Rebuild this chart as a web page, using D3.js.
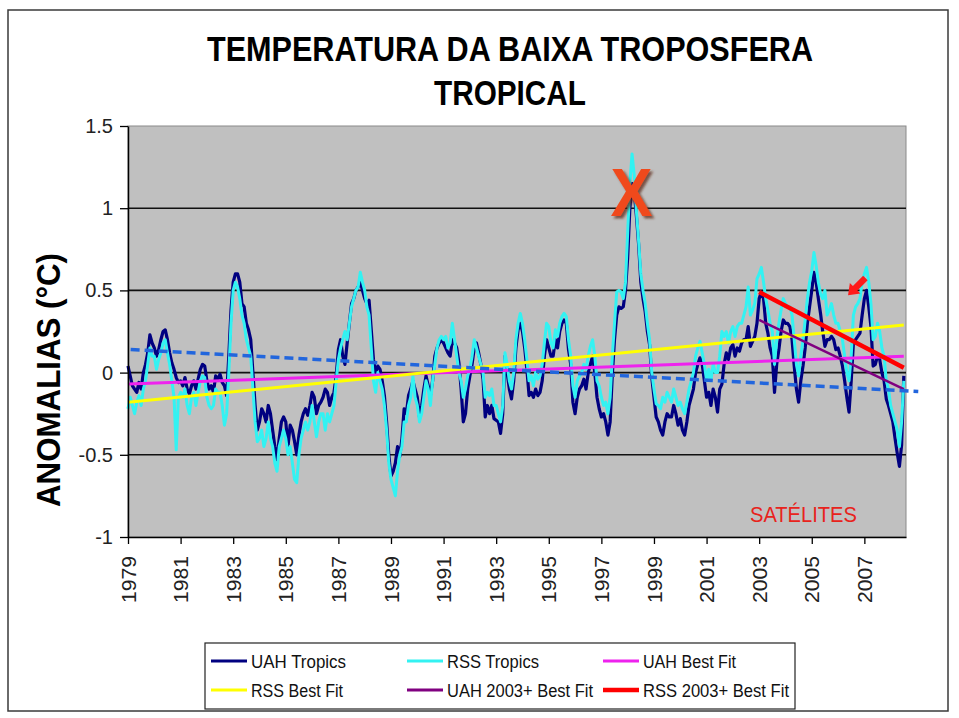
<!DOCTYPE html>
<html>
<head>
<meta charset="utf-8">
<script src="https://cdn.jsdelivr.net/npm/d3@7/dist/d3.min.js"></script>
<style>
  html, body { margin: 0; padding: 0; background: #ffffff; }
  svg { display: block; }
  text { font-family: "Liberation Sans", Arial, sans-serif; }
</style>
</head>
<body>
<script>
// ---------------- DATA ----------------
const startYear = 1979;            // first month = Jan 1979, monthly values
const uahTropics = [
  0.04,-0.02,-0.08,-0.10,-0.12,-0.06,-0.10,0.00,0.05,0.12,0.23,0.18,
  0.15,0.10,0.14,0.20,0.25,0.26,0.20,0.12,0.06,0.02,-0.03,-0.06,
  -0.05,-0.08,-0.03,-0.10,-0.13,-0.08,-0.05,-0.10,-0.04,0.02,0.05,0.04,
  -0.05,-0.10,-0.08,-0.12,-0.02,-0.04,-0.01,-0.06,-0.08,-0.14,0.10,0.38,
  0.55,0.60,0.60,0.55,0.42,0.40,0.30,0.26,0.20,0.00,-0.20,-0.35,
  -0.30,-0.22,-0.25,-0.30,-0.20,-0.25,-0.35,-0.45,-0.53,-0.40,-0.30,-0.27,
  -0.30,-0.45,-0.32,-0.35,-0.42,-0.50,-0.38,-0.30,-0.25,-0.22,-0.26,-0.20,
  -0.12,-0.15,-0.25,-0.20,-0.18,-0.15,-0.10,-0.12,-0.20,-0.15,-0.12,-0.02,
  0.14,0.20,0.10,0.05,0.18,0.30,0.42,0.45,0.50,0.52,0.55,0.50,
  0.45,0.42,0.44,0.26,0.08,0.00,0.04,0.02,-0.05,-0.14,-0.30,-0.50,
  -0.63,-0.60,-0.55,-0.45,-0.51,-0.40,-0.22,-0.25,-0.14,-0.10,-0.05,-0.10,
  -0.15,-0.27,-0.20,-0.10,-0.02,-0.08,-0.14,-0.05,0.10,0.15,0.18,0.20,
  0.18,0.15,0.12,0.10,0.20,0.18,0.15,0.06,-0.10,-0.30,-0.25,-0.10,
  -0.02,0.05,0.15,0.18,0.12,0.05,-0.04,-0.27,-0.20,-0.25,-0.20,-0.28,
  -0.29,-0.30,-0.37,-0.25,0.10,0.00,-0.10,-0.16,-0.05,0.15,0.26,0.30,
  0.25,0.15,0.02,-0.14,-0.12,-0.15,-0.10,-0.14,-0.12,-0.05,0.10,0.20,
  0.15,0.10,0.10,0.20,0.15,0.25,0.30,0.32,0.30,0.14,0.05,-0.18,
  -0.25,-0.15,-0.10,-0.08,-0.04,-0.10,0.00,0.05,0.10,0.00,-0.15,-0.22,
  -0.27,-0.25,-0.30,-0.38,-0.30,-0.01,0.20,0.35,0.40,0.39,0.40,0.50,
  0.70,1.00,1.15,1.10,0.95,0.78,0.55,0.45,0.37,0.25,0.17,-0.03,
  -0.15,-0.27,-0.30,-0.35,-0.38,-0.30,-0.25,-0.27,-0.27,-0.20,-0.25,-0.32,
  -0.28,-0.35,-0.38,-0.30,-0.20,-0.15,-0.10,0.00,0.05,0.09,0.05,-0.05,
  -0.15,-0.12,-0.20,-0.10,-0.15,-0.24,-0.10,-0.07,0.05,0.12,0.08,0.15,
  0.17,0.10,0.15,0.13,0.18,0.20,0.20,0.28,0.16,0.19,0.22,0.30,
  0.45,0.49,0.45,0.30,0.24,0.15,0.10,-0.12,0.05,0.14,0.25,0.32,
  0.30,0.30,0.28,0.20,0.04,-0.10,-0.18,-0.05,0.04,0.15,0.30,0.40,
  0.50,0.61,0.55,0.45,0.36,0.25,0.16,0.20,0.20,0.22,0.20,0.14,
  0.15,0.10,0.04,-0.05,-0.15,-0.24,-0.05,0.18,0.20,0.22,0.24,0.35,
  0.45,0.50,0.40,0.28,0.04,0.05,0.10,0.08,0.00,-0.05,-0.16,-0.20,
  -0.25,-0.30,-0.40,-0.49,-0.57,-0.44,-0.02
];
const rssTropics = [
  -0.22,-0.15,-0.20,-0.25,-0.18,-0.14,-0.20,-0.10,-0.05,0.05,0.15,0.10,
  0.10,0.02,0.08,0.12,0.18,0.20,0.12,0.05,-0.05,-0.15,-0.47,-0.15,
  -0.12,-0.15,-0.10,-0.20,-0.25,-0.15,-0.12,-0.20,-0.12,-0.05,-0.02,-0.03,
  -0.15,-0.20,-0.22,-0.20,-0.10,-0.12,-0.12,-0.20,-0.32,-0.25,0.00,0.30,
  0.50,0.55,0.52,0.45,0.35,0.30,0.20,0.15,0.10,-0.10,-0.30,-0.42,
  -0.40,-0.35,-0.45,-0.40,-0.30,-0.40,-0.45,-0.55,-0.60,-0.45,-0.40,-0.35,
  -0.40,-0.50,-0.45,-0.55,-0.65,-0.67,-0.50,-0.40,-0.35,-0.30,-0.35,-0.30,
  -0.20,-0.30,-0.39,-0.30,-0.25,-0.25,-0.35,-0.25,-0.30,-0.25,-0.20,-0.05,
  0.08,0.15,0.20,0.25,0.20,0.30,0.40,0.45,0.50,0.52,0.61,0.55,
  0.50,0.40,0.35,0.15,-0.05,-0.12,0.00,-0.05,-0.10,-0.20,-0.35,-0.55,
  -0.65,-0.70,-0.75,-0.60,-0.50,-0.45,-0.30,-0.30,-0.20,-0.15,-0.02,-0.15,
  -0.20,-0.30,-0.25,-0.15,-0.05,-0.10,-0.20,-0.05,0.05,0.15,0.20,0.22,
  0.20,0.22,0.15,0.18,0.30,0.20,0.10,0.00,-0.05,-0.15,-0.10,-0.02,
  0.02,0.10,0.20,0.15,0.10,0.05,0.00,-0.15,-0.12,-0.14,-0.10,-0.20,
  -0.20,-0.25,-0.30,-0.20,0.12,0.05,-0.05,-0.10,0.00,0.20,0.30,0.36,
  0.30,0.20,0.08,-0.05,-0.02,-0.08,0.00,-0.04,-0.02,0.05,0.18,0.30,
  0.28,0.18,0.15,0.26,0.22,0.30,0.34,0.36,0.34,0.20,0.10,-0.08,
  -0.15,-0.05,-0.02,0.00,0.05,0.02,0.10,0.16,0.20,0.10,-0.05,-0.08,
  -0.15,-0.20,-0.18,-0.25,-0.15,0.10,0.30,0.49,0.50,0.49,0.45,0.55,
  0.85,1.15,1.33,1.20,0.98,0.80,0.60,0.50,0.42,0.30,0.20,0.00,
  -0.10,-0.19,-0.20,-0.22,-0.15,-0.18,-0.12,-0.15,-0.18,-0.10,-0.15,-0.20,
  -0.18,-0.22,-0.25,-0.18,-0.10,-0.05,0.00,0.10,0.15,0.19,0.12,0.05,
  -0.05,0.02,-0.05,0.05,0.00,0.00,0.10,0.25,0.22,0.25,0.18,0.25,
  0.28,0.22,0.28,0.30,0.30,0.35,0.40,0.52,0.35,0.38,0.42,0.57,
  0.60,0.64,0.55,0.45,0.38,0.30,0.25,0.05,0.20,0.30,0.38,0.45,
  0.42,0.40,0.40,0.35,0.20,0.05,-0.02,0.10,0.20,0.32,0.45,0.55,
  0.62,0.73,0.65,0.55,0.48,0.45,0.50,0.35,0.38,0.42,0.35,0.30,
  0.30,0.25,0.20,0.10,0.00,-0.05,0.10,0.35,0.40,0.42,0.45,0.55,
  0.60,0.64,0.55,0.42,0.20,0.22,0.30,0.25,0.15,0.10,-0.05,-0.10,
  -0.20,-0.25,-0.30,-0.35,-0.45,-0.30,-0.05
];
// Trend lines: [startYear, startValue, endYear, endValue]
const uahBestFit     = [1979.0, -0.07, 2008.5, 0.10];
const rssBestFit     = [1979.0, -0.18, 2008.5, 0.29];
const uah2003BestFit = [2003.0, 0.32, 2008.5, -0.10];
const rss2003BestFit = [2003.0, 0.49, 2008.5, 0.03];
const blueDashed     = [1979.1, 0.14, 2009.05, -0.115];

const yTicks = [-1, -0.5, 0, 0.5, 1, 1.5];
const xTicks = [1979,1981,1983,1985,1987,1989,1991,1993,1995,1997,1999,2001,2003,2005,2007];

const titleLines = ["TEMPERATURA DA BAIXA TROPOSFERA", "TROPICAL"];
const yTitle = "ANOMALIAS (°C)";
const legendItems = [
  {name: "UAH Tropics",        color: "#000080", w: 3,   tl: 95},
  {name: "RSS Tropics",        color: "#33f2f2", w: 3,   tl: 92},
  {name: "UAH Best Fit",       color: "#ee22ee", w: 3,   tl: 93},
  {name: "RSS Best Fit",       color: "#ffff00", w: 3,   tl: 92},
  {name: "UAH 2003+ Best Fit", color: "#800080", w: 3,   tl: 146},
  {name: "RSS 2003+ Best Fit", color: "#ff0000", w: 4.5, tl: 146}
];

// ---------------- LAYOUT ----------------
const W = 959, H = 718;
const plot = {left: 128, right: 906, top: 126, bottom: 537};
const nMonths = 355;

const svg = d3.select("body").append("svg").attr("width", W).attr("height", H);
const defs = svg.append("defs");
const shadow = defs.append("filter").attr("id", "xshadow")
  .attr("x", "-30%").attr("y", "-30%").attr("width", "160%").attr("height", "160%");
shadow.append("feDropShadow").attr("dx", 2.5).attr("dy", 2.5).attr("stdDeviation", 1.2)
  .attr("flood-color", "#5a2010").attr("flood-opacity", 0.7);

svg.append("rect").attr("width", W).attr("height", H).attr("fill", "#fff");
// outer frame
svg.append("rect").attr("x", 8).attr("y", 10).attr("width", 940).attr("height", 701)
  .attr("fill", "#fff").attr("stroke", "#3a3a3a").attr("stroke-width", 1.5);

const x = d3.scaleLinear().domain([startYear, startYear + nMonths / 12]).range([plot.left, plot.right]);
const y = d3.scaleLinear().domain([-1, 1.5]).range([plot.bottom, plot.top]);
const tOf = i => startYear + i / 12;

// plot background
svg.append("rect").attr("x", plot.left).attr("y", plot.top)
  .attr("width", plot.right - plot.left).attr("height", plot.bottom - plot.top)
  .attr("fill", "#c0c0c0").attr("stroke", "#8a8a8a").attr("stroke-width", 1);

// gridlines
svg.append("g").selectAll("line").data(yTicks.filter(d => d > -1 && d < 1.5)).join("line")
  .attr("x1", plot.left).attr("x2", plot.right)
  .attr("y1", d => y(d)).attr("y2", d => y(d))
  .attr("stroke", "#111").attr("stroke-width", 1.6);

const line = d3.line().x((d, i) => x(tOf(i))).y(d => y(d));
const seg = a => `M${x(a[0])},${y(a[1])}L${x(a[2])},${y(a[3])}`;

const g = svg.append("g");
g.append("path").attr("d", line(uahTropics)).attr("fill", "none")
  .attr("stroke", "#000080").attr("stroke-width", 3.2).attr("stroke-linejoin", "round");
g.append("path").attr("d", line(rssTropics)).attr("fill", "none")
  .attr("stroke", "#33f2f2").attr("stroke-width", 3).attr("stroke-linejoin", "round");
g.append("path").attr("d", seg(uahBestFit)).attr("stroke", "#ee22ee").attr("stroke-width", 3);
g.append("path").attr("d", seg(rssBestFit)).attr("stroke", "#ffff00").attr("stroke-width", 3);
g.append("path").attr("d", seg(uah2003BestFit)).attr("stroke", "#800080").attr("stroke-width", 2.5);
g.append("path").attr("d", seg(rss2003BestFit)).attr("stroke", "#ff0000").attr("stroke-width", 4.5);

// blue dashed annotation line (extends past plot)
svg.append("path").attr("d", seg(blueDashed)).attr("stroke", "#2266dd")
  .attr("stroke-width", 3.5).attr("stroke-dasharray", "9,5");

// axes
const yAxis = d3.axisLeft(y).tickValues(yTicks).tickFormat(d => String(d))
  .tickSize(8).tickSizeOuter(0).tickPadding(7);
const ya = svg.append("g").attr("transform", `translate(${plot.left},0)`).call(yAxis);
ya.select(".domain").attr("stroke", "#000").attr("stroke-width", 1.5);
ya.selectAll(".tick line").attr("stroke", "#000").attr("stroke-width", 1.3);
ya.selectAll(".tick text").attr("font-size", 20).attr("fill", "#222")
  .attr("font-family", "'Liberation Sans', Arial, sans-serif");

const xAxis = d3.axisBottom(x).tickValues(xTicks).tickFormat(d3.format("d"))
  .tickSize(7).tickSizeOuter(0);
const xa = svg.append("g").attr("transform", `translate(0,${plot.bottom})`).call(xAxis);
xa.select(".domain").attr("stroke", "#000").attr("stroke-width", 1.5);
xa.selectAll(".tick line").attr("stroke", "#000").attr("stroke-width", 1.3);
xa.selectAll(".tick text")
  .attr("font-size", 20).attr("fill", "#222")
  .attr("font-family", "'Liberation Sans', Arial, sans-serif")
  .attr("text-anchor", "end")
  .attr("transform", "rotate(-90)")
  .attr("x", -19).attr("y", 0).attr("dy", "0.36em")
  .attr("textLength", 47).attr("lengthAdjust", "spacingAndGlyphs");

// title
svg.append("text").attr("x", 510).attr("y", 61).attr("text-anchor", "middle")
  .attr("font-size", 35).attr("font-weight", "bold").attr("fill", "#000")
  .attr("textLength", 606).attr("lengthAdjust", "spacingAndGlyphs").text(titleLines[0]);
svg.append("text").attr("x", 510).attr("y", 105).attr("text-anchor", "middle")
  .attr("font-size", 35).attr("font-weight", "bold").attr("fill", "#000")
  .attr("textLength", 152).attr("lengthAdjust", "spacingAndGlyphs").text(titleLines[1]);

// y title
svg.append("text").attr("transform", "translate(60,380) rotate(-90)")
  .attr("text-anchor", "middle").attr("font-size", 34).attr("font-weight", "bold")
  .attr("fill", "#000").attr("textLength", 254).attr("lengthAdjust", "spacingAndGlyphs")
  .text(yTitle);

// annotations
const X_pos = [1998.15, 0.95];
svg.append("text").attr("x", x(X_pos[0])).attr("y", y(X_pos[1]))
  .attr("text-anchor", "middle").attr("font-size", 68).attr("font-weight", "bold")
  .attr("fill", "#f04a1c").attr("filter", "url(#xshadow)")
  .attr("textLength", 42).attr("lengthAdjust", "spacingAndGlyphs").text("X");

const satPos = [2002.65, -0.91];
svg.append("text").attr("x", x(satPos[0])).attr("y", y(satPos[1]))
  .attr("font-size", 22).attr("fill", "#e8231c")
  .attr("font-family", "'Open Sans', 'Liberation Sans', sans-serif")
  .attr("textLength", 107).attr("lengthAdjust", "spacingAndGlyphs").text("SATÉLITES");

// red arrow (tip at bottom-left)
const arrowTip = [2006.38, 0.47], arrowTail = [2007.04, 0.575];
(function () {
  const tx = x(arrowTip[0]), ty = y(arrowTip[1]);
  const sx = x(arrowTail[0]), sy = y(arrowTail[1]);
  const len = Math.hypot(tx - sx, ty - sy);
  const ux = (tx - sx) / len, uy = (ty - sy) / len;
  const px = -uy, py = ux;
  const headL = 10, headW = 7.5, shaftW = 3.2;
  const bx = tx - ux * headL, by = ty - uy * headL;
  const pts = [
    [tx, ty],
    [bx + px * headW, by + py * headW],
    [bx + px * shaftW, by + py * shaftW],
    [sx + px * shaftW, sy + py * shaftW],
    [sx - px * shaftW, sy - py * shaftW],
    [bx - px * shaftW, by - py * shaftW],
    [bx - px * headW, by - py * headW]
  ];
  svg.append("path").attr("d", "M" + pts.map(p => p.join(",")).join("L") + "Z")
    .attr("fill", "#ff1a1a");
})();

// legend
const lg = svg.append("g");
lg.append("rect").attr("x", 205).attr("y", 643).attr("width", 590).attr("height", 66)
  .attr("fill", "#fff").attr("stroke", "#222").attr("stroke-width", 1.2);
const colX = [211, 407, 603], rowY = [661, 690];
legendItems.forEach((d, i) => {
  const cx = colX[i % 3], cy = rowY[Math.floor(i / 3)];
  lg.append("line").attr("x1", cx).attr("x2", cx + 36).attr("y1", cy).attr("y2", cy)
    .attr("stroke", d.color).attr("stroke-width", d.w);
  lg.append("text").attr("x", cx + 40).attr("y", cy + 6.5)
    .attr("font-size", 18).attr("fill", "#111")
    .attr("textLength", d.tl).attr("lengthAdjust", "spacingAndGlyphs").text(d.name);
});
</script>
</body>
</html>
